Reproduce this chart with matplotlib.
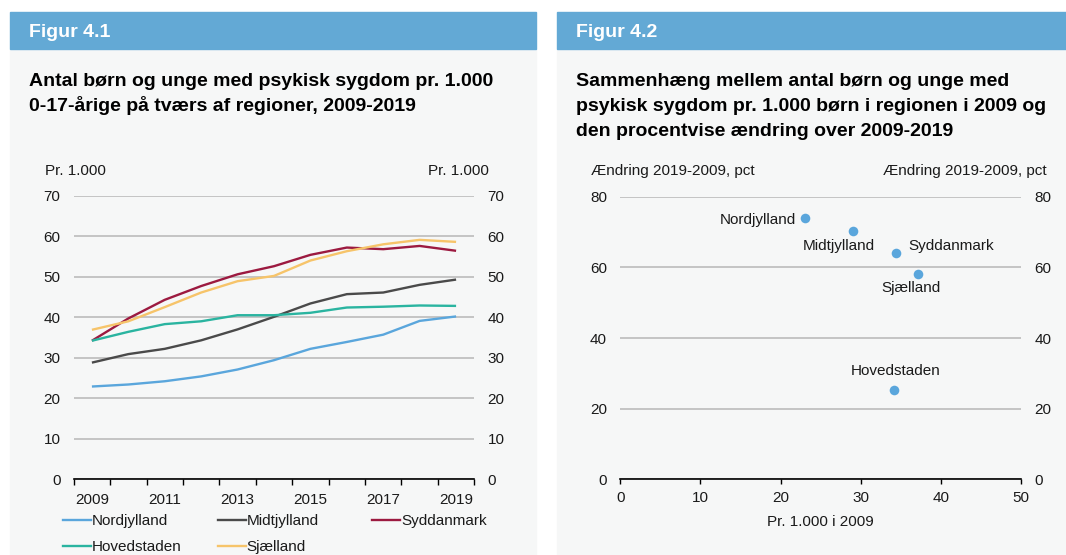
import matplotlib
matplotlib.use("Agg")
import matplotlib.pyplot as plt
from matplotlib.patches import Rectangle
from matplotlib.lines import Line2D

plt.rcParams['font.family'] = ['Liberation Sans', 'DejaVu Sans']

# ---- data -------------------------------------------------------------
years = list(range(2009, 2020))
nordjylland = [22.9, 23.4, 24.2, 25.4, 27.1, 29.4, 32.2, 33.9, 35.7, 39.1, 40.2]
midtjylland = [28.8, 30.9, 32.2, 34.3, 37.0, 40.1, 43.4, 45.7, 46.1, 48.0, 49.3]
syddanmark = [34.2, 39.7, 44.3, 47.7, 50.6, 52.6, 55.4, 57.2, 56.8, 57.6, 56.4]
hovedstaden = [34.2, 36.4, 38.3, 39.0, 40.5, 40.5, 41.1, 42.4, 42.6, 42.9, 42.8]
sjaelland = [36.9, 39.0, 42.5, 46.1, 48.9, 50.2, 54.0, 56.3, 58.0, 59.1, 58.6]

regions = ["Nordjylland", "Midtjylland", "Syddanmark", "Hovedstaden", "Sjælland"]
level_2009 = [23.1, 29.0, 34.4, 34.2, 37.1]
change_pct = [74.0, 70.2, 64.2, 25.2, 58.0]

# ---- style ------------------------------------------------------------
W, H, DPI = 1066, 555, 100
HEADER = '#63a9d5'
PANEL = '#f6f7f7'
GRID = '#c0c0c0'
TXT = '#1a1a1a'
colors = {
    "Nordjylland": '#5aa6dc',
    "Midtjylland": '#4a4a4a',
    "Syddanmark": '#9c1a40',
    "Hovedstaden": '#2ab4a0',
    "Sjælland": '#f6c46a',
}
FS = 11
TFS = 14

fig = plt.figure(figsize=(W / DPI, H / DPI), dpi=DPI, facecolor='white')


def fbox(x0, y0, x1, y1):
    return [x0 / W, 1 - y1 / H, (x1 - x0) / W, (y1 - y0) / H]


def ftext(x, y, s, **kw):
    kw.setdefault('color', TXT)
    kw.setdefault('fontsize', FS)
    return fig.text(x / W, 1 - y / H, s, **kw)


# panel backgrounds and header bars (behind the axes)
for x0, x1 in [(10, 536), (557, 1066)]:
    fig.patches.append(Rectangle((x0 / W, 0), (x1 - x0) / W, 1 - 49 / H,
                                 transform=fig.transFigure, color=PANEL, zorder=-2))
    fig.patches.append(Rectangle((x0 / W, 1 - 49 / H), (x1 - x0) / W, 37 / H,
                                 transform=fig.transFigure, color=HEADER, zorder=-2))

ftext(29, 37.3, "Figur 4.1", color='white', fontsize=TFS, fontweight='bold', va='baseline')
ftext(576, 37.3, "Figur 4.2", color='white', fontsize=TFS, fontweight='bold', va='baseline')

for i, line in enumerate(["Antal børn og unge med psykisk sygdom pr. 1.000",
                          "0-17-årige på tværs af regioner, 2009-2019"]):
    ftext(29, 86 + 25 * i, line, color='black', fontsize=TFS, fontweight='bold', va='baseline')

for i, line in enumerate(["Sammenhæng mellem antal børn og unge med",
                          "psykisk sygdom pr. 1.000 børn i regionen i 2009 og",
                          "den procentvise ændring over 2009-2019"]):
    ftext(576, 86 + 25 * i, line, color='black', fontsize=TFS, fontweight='bold', va='baseline')

ftext(45, 175, "Pr. 1.000", va='baseline', ha='left')
ftext(489, 175, "Pr. 1.000", va='baseline', ha='right')
ftext(591, 175.5, "Ændring 2019-2009, pct", va='baseline', ha='left')
ftext(1047, 175.5, "Ændring 2019-2009, pct", va='baseline', ha='right')


def style_axes(ax):
    ax.set_facecolor('none')
    for s in ['top', 'left', 'right']:
        ax.spines[s].set_visible(False)
    ax.spines['bottom'].set_color('black')
    ax.spines['bottom'].set_linewidth(1.2)
    ax.spines['bottom'].set_zorder(3)
    ax.set_axisbelow(True)
    ax.grid(axis='y', color=GRID, lw=1.3)
    ax.grid(axis='x', visible=False)
    ax.tick_params(axis='y', length=0, labelleft=True, labelright=True,
                   pad=9.5, labelsize=FS, labelcolor=TXT)


# ---- Figure 4.1: lines --------------------------------------------------
ax1 = fig.add_axes(fbox(73.7, 195.7, 474.3, 479.3))
style_axes(ax1)
series = [nordjylland, midtjylland, syddanmark, hovedstaden, sjaelland]
for name, vals in zip(regions, series):
    ax1.plot(years, vals, color=colors[name], lw=1.7, solid_capstyle='butt',
             label=name, zorder=2)
ax1.set_xlim(years[0] - 0.5, years[-1] + 0.5)
ax1.set_ylim(0, 70)
ax1.set_yticks(range(0, 71, 10))
ax1.set_xticks([y - 0.5 for y in years] + [years[-1] + 0.5])
ax1.set_xticks(years[::2], minor=True)
ax1.set_xticklabels([str(y) for y in years[::2]], minor=True)
ax1.tick_params(axis='x', which='major', length=4, width=1, color='black',
                direction='out', labelbottom=False)
ax1.tick_params(axis='x', which='minor', length=0, pad=10,
                labelsize=FS, labelcolor=TXT)

# legend in three fixed-width columns
handles = {n: Line2D([], [], color=colors[n], lw=1.7) for n in regions}
legend_cols = [(62.7, ["Nordjylland", "Hovedstaden"]),
               (217.7, ["Midtjylland", "Sjælland"]),
               (372.0, ["Syddanmark"])]
for x0, names in legend_cols:
    leg = fig.legend([handles[n] for n in names], names,
                     loc='upper left', bbox_to_anchor=(x0 / W, 1 - 514 / H),
                     frameon=False, fontsize=FS, handlelength=1.83,
                     handletextpad=0.07, borderpad=0, borderaxespad=0,
                     labelspacing=0.81, labelcolor=TXT)

# ---- Figure 4.2: scatter ------------------------------------------------
ax2 = fig.add_axes(fbox(620.3, 196.7, 1021.0, 479.3))
style_axes(ax2)
ax2.scatter(level_2009, change_pct, s=48, color=colors["Nordjylland"],
            linewidths=0, zorder=3)
ax2.set_xlim(0, 50)
ax2.set_ylim(0, 80)
ax2.set_yticks(range(0, 81, 20))
ax2.set_xticks(range(0, 51, 10))
ax2.tick_params(axis='x', length=3.4, width=1, color='black', direction='out',
                pad=5, labelsize=FS, labelcolor=TXT)
ax2.set_xlabel("Pr. 1.000 i 2009", fontsize=FS, color=TXT, labelpad=7.5)

label_offsets = {
    "Nordjylland": (-9, -2.5, 'right'),
    "Midtjylland": (-13.5, -14.5, 'center'),
    "Syddanmark": (12, 6.5, 'left'),
    "Hovedstaden": (1.5, 19.5, 'center'),
    "Sjælland": (-6.5, -13.5, 'center'),
}
for name, x, y in zip(regions, level_2009, change_pct):
    dx, dy, ha = label_offsets[name]
    ax2.annotate(name, (x, y), xytext=(dx, dy), textcoords='offset pixels',
                 ha=ha, va='center', fontsize=FS, color=TXT)

fig.savefig("out.png", dpi=DPI, facecolor='white')
